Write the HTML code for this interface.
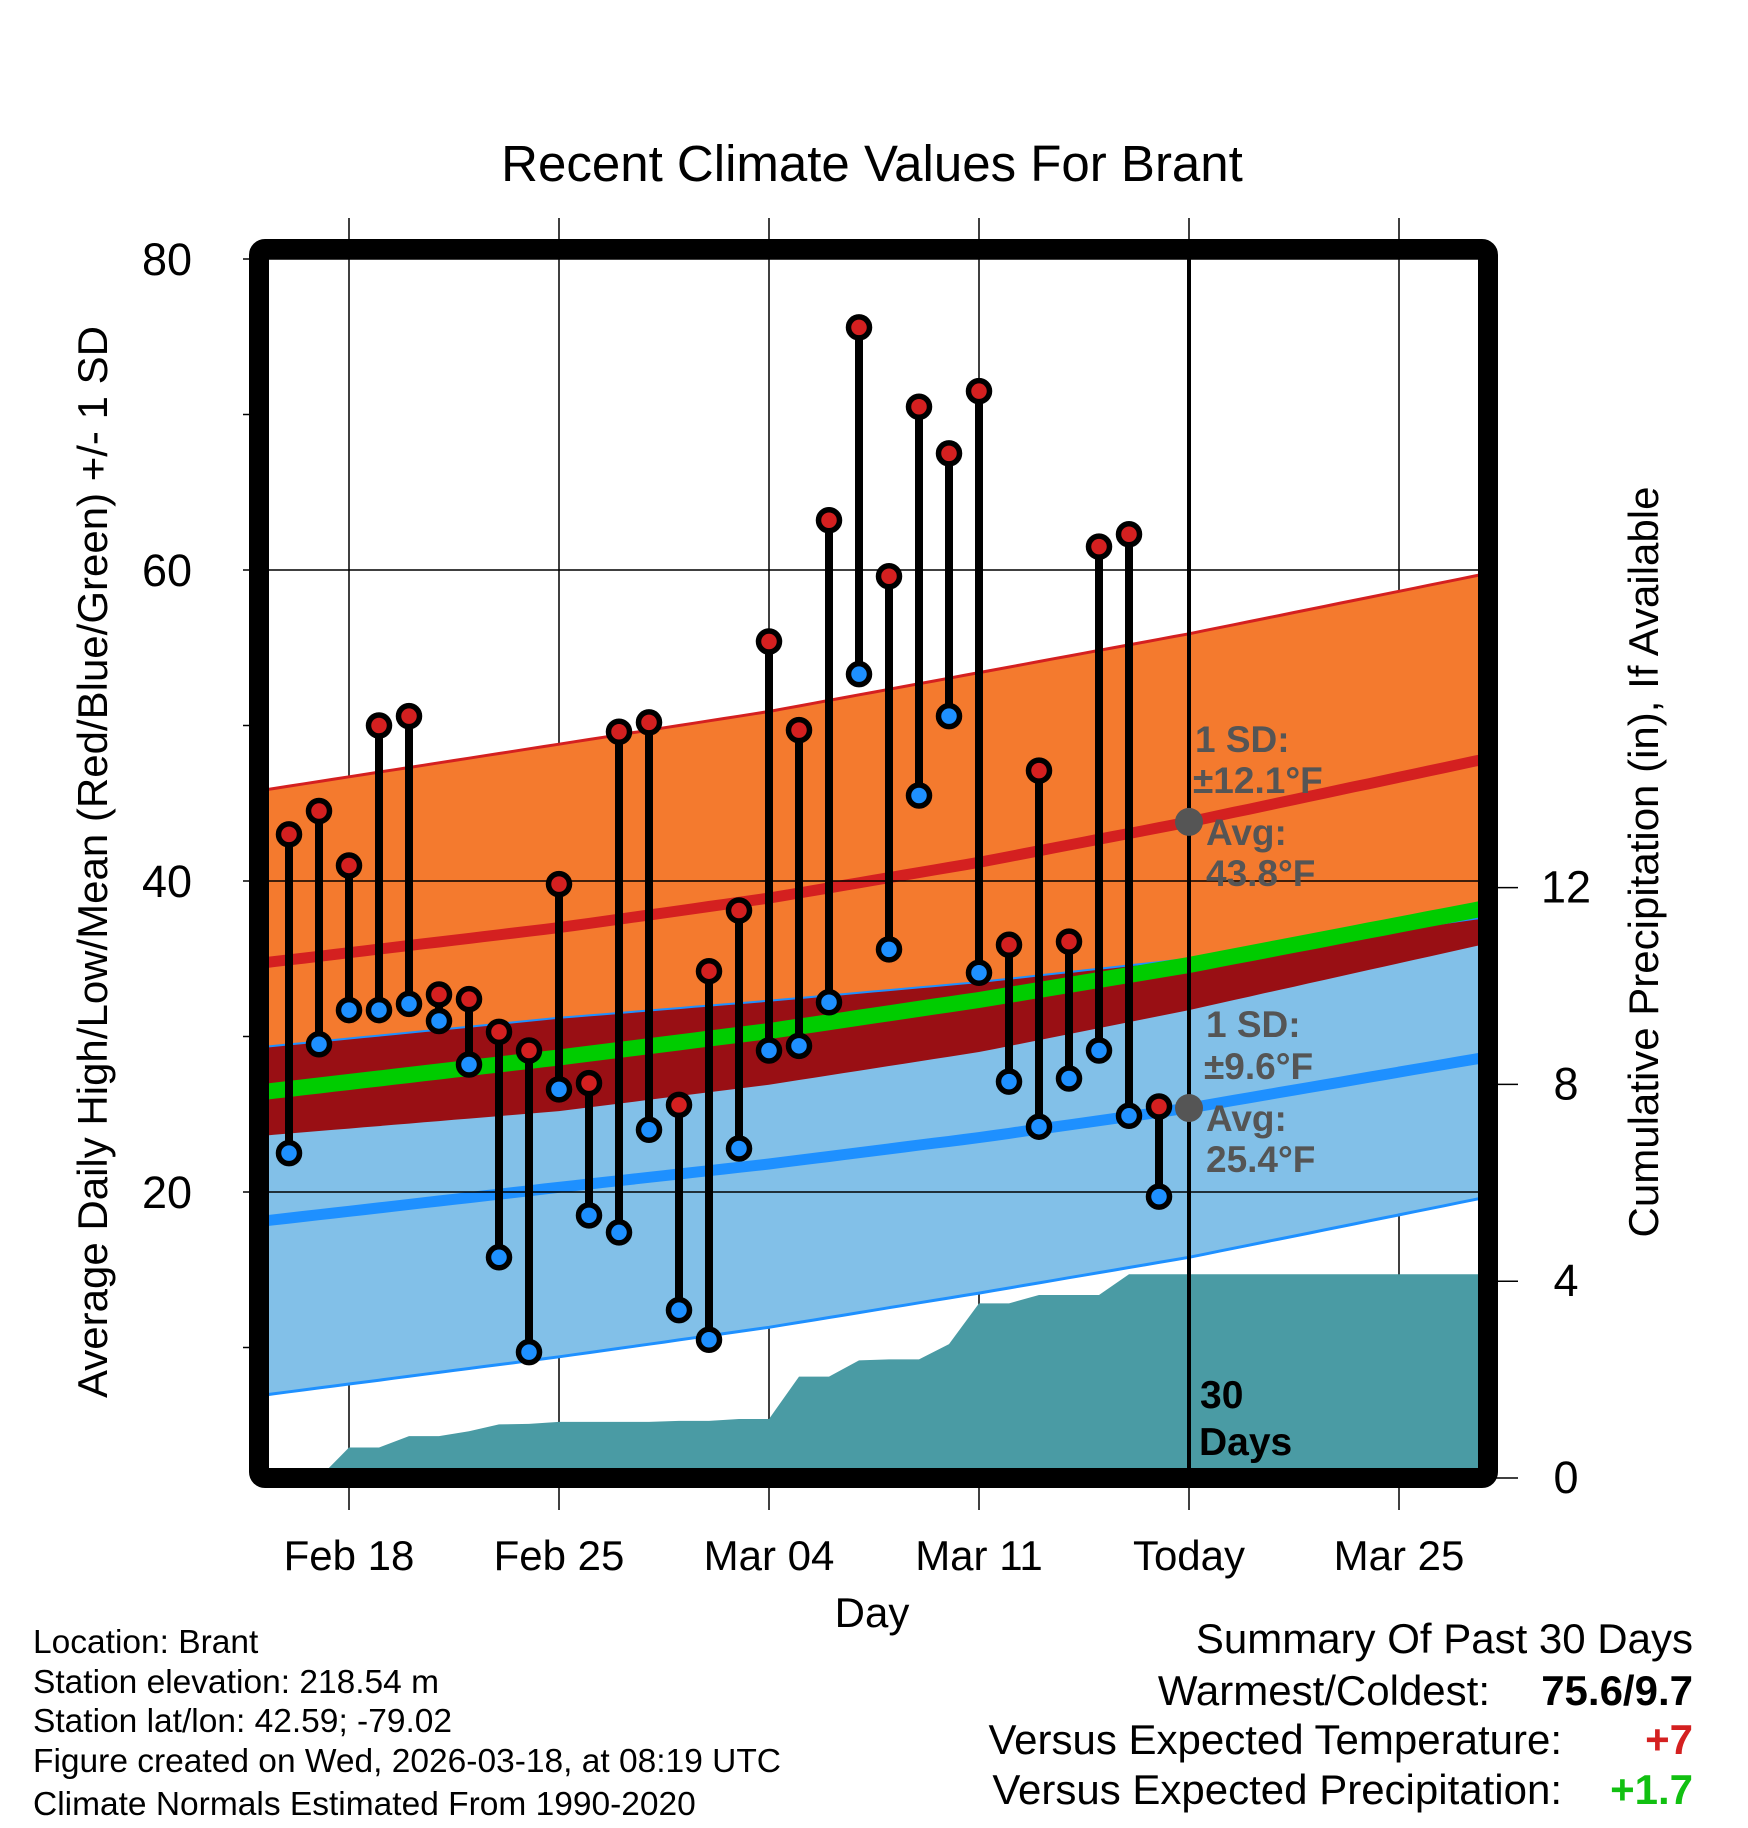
<!DOCTYPE html>
<html><head><meta charset="utf-8"><style>
html,body{margin:0;padding:0;background:#fff}
svg{display:block;font-family:"Liberation Sans",sans-serif}
</style></head><body>
<svg id="chart" width="1748" height="1828" viewBox="0 0 1748 1828" xmlns="http://www.w3.org/2000/svg">
<defs><clipPath id="plotclip"><rect x="269" y="259" width="1209" height="1209"/></clipPath></defs>
<text x="872" y="181" font-size="51" text-anchor="middle">Recent Climate Values For Brant</text>
<g id="grid"></g>
<g id="plot" clip-path="url(#plotclip)"></g>
<g id="overlay"></g>
<rect x="259" y="249" width="1229" height="1229" fill="none" stroke="#000" stroke-width="20" rx="6"/>
<g id="axes"></g>
<text transform="translate(107,862) rotate(-90)" font-size="42" text-anchor="middle">Average Daily High/Low/Mean (Red/Blue/Green) +/- 1 SD</text>
<text transform="translate(1658,862) rotate(-90)" font-size="42" text-anchor="middle">Cumulative Precipitation (in), If Available</text>
<text x="872" y="1627" font-size="42" text-anchor="middle">Day</text>
<g font-size="33.5">
<text x="33" y="1653">Location: Brant</text>
<text x="33" y="1693">Station elevation: 218.54 m</text>
<text x="33" y="1732">Station lat/lon: 42.59; -79.02</text>
<text x="33" y="1772">Figure created on Wed, 2026-03-18, at 08:19 UTC</text>
<text x="33" y="1815">Climate Normals Estimated From 1990-2020</text>
</g>
<g font-size="42">
<text x="1693" y="1653" text-anchor="end">Summary Of Past 30 Days</text>
<text x="1490" y="1705" text-anchor="end">Warmest/Coldest:</text>
<text x="1693" y="1705" text-anchor="end" font-weight="bold">75.6/9.7</text>
<text x="1562" y="1754" text-anchor="end">Versus Expected Temperature:</text>
<text x="1693" y="1754" text-anchor="end" font-weight="bold" fill="#d42020">+7</text>
<text x="1562" y="1804" text-anchor="end">Versus Expected Precipitation:</text>
<text x="1693" y="1804" text-anchor="end" font-weight="bold" fill="#11c011">+1.7</text>
</g>
</svg>
<script>
// data (day offsets relative to Feb 18)
const obsDays = [-2,-1,0,1,2,3,4,5,6,7,8,9,10,11,12,13,14,15,16,17,18,19,20,21,22,23,24,25,26,27];
const highs = [43.0,44.5,41.0,50.0,50.6,32.7,32.4,30.3,29.1,39.8,27.0,49.6,50.2,25.6,34.2,38.1,55.4,49.7,63.2,75.6,59.6,70.5,67.5,71.5,35.9,47.1,36.1,61.5,62.3,25.5];
const lows = [22.5,29.5,31.7,31.7,32.1,31.0,28.2,15.8,9.7,26.6,18.5,17.4,24.0,12.4,10.5,22.8,29.1,29.4,32.2,53.3,35.6,45.5,50.6,34.1,27.1,24.2,27.3,29.1,24.9,19.7];
const precip = [0,0,0.62,0.62,0.85,0.85,0.95,1.09,1.1,1.14,1.14,1.14,1.14,1.16,1.16,1.2,1.2,2.06,2.06,2.39,2.41,2.41,2.72,3.55,3.55,3.72,3.72,3.72,4.14,4.14];
const normDays = [-3,7,14,21,28,38];
const highMean = [34.7,37.0,38.9,41.2,43.8,47.9];
const highSD = [11.1,11.8,12.0,12.2,12.1,11.9];
const lowMean = [18.1,20.3,21.8,23.5,25.4,28.7];
const lowSD = [11.2,10.9,10.5,10.0,9.6,9.0];
const xTickDays = [0,7,14,21,28,35];
const xTickLabels = ["Feb 18","Feb 25","Mar 04","Mar 11","Today","Mar 25"];
const yTicks = [20,40,60,80];
const yMinor = [10,30,50,70];
const pTicks = [0,4,8,12];
const todayDay = 28;

const NS = "http://www.w3.org/2000/svg";
const X = d => 349 + d*30;
const Y = v => 1503 - v*15.55;
const P = v => 1478 - v*49.2;
function mk(parent, tag, attrs){const e=document.createElementNS(NS,tag);for(const k in attrs)e.setAttribute(k,attrs[k]);parent.appendChild(e);return e;}
const grid=document.getElementById('grid'), plot=document.getElementById('plot'), ov=document.getElementById('overlay'), axes=document.getElementById('axes');

function interp(arr,d){for(let i=0;i<normDays.length-1;i++){if(d<=normDays[i+1]||i==normDays.length-2){const t=(d-normDays[i])/(normDays[i+1]-normDays[i]);return arr[i]+t*(arr[i+1]-arr[i]);}}}
const samp=[];for(let d=-3;d<=38;d+=0.5)samp.push(d);
const line = f => samp.map(d=>X(d).toFixed(1)+","+Y(f(d)).toFixed(1)).join(" L");
const band = (f1,f2) => "M"+line(f1)+" L"+samp.slice().reverse().map(d=>X(d).toFixed(1)+","+Y(f2(d)).toFixed(1)).join(" L")+" Z";
const hTop=d=>interp(highMean,d)+interp(highSD,d), hBot=d=>interp(highMean,d)-interp(highSD,d);
const lTop=d=>interp(lowMean,d)+interp(lowSD,d), lBot=d=>interp(lowMean,d)-interp(lowSD,d);

let e;
e=mk(plot,'path',{d:band(hTop,hBot),fill:'#f47a2e'});

e=mk(plot,'path',{d:band(lTop,lBot),fill:'#82c0e8'});

e=mk(plot,'path',{d:band(lTop,hBot),fill:'#990f14'});

e=mk(plot,'path',{d:"M"+line(hTop),fill:'none',stroke:'#d42020',"stroke-width":3});

e=mk(plot,'path',{d:"M"+line(lTop),fill:'none',stroke:'#1e90ff',"stroke-width":2});

e=mk(plot,'path',{d:"M"+line(lBot),fill:'none',stroke:'#1e90ff',"stroke-width":3});

e=mk(plot,'path',{d:"M"+line(d=>interp(highMean,d)),fill:'none',stroke:'#d42020',"stroke-width":11});

e=mk(plot,'path',{d:"M"+line(d=>interp(lowMean,d)),fill:'none',stroke:'#1e90ff',"stroke-width":11});

e=mk(plot,'path',{d:"M"+line(d=>(interp(highMean,d)+interp(lowMean,d))/2),fill:'none',stroke:'#00cc00',"stroke-width":16});


let pd="M"+X(obsDays[0])+","+P(0);
obsDays.forEach((d,i)=>{pd+=" L"+X(d)+","+P(precip[i]);});
pd+=" L"+X(38)+","+P(precip[precip.length-1])+" L"+X(38)+","+P(0)+" Z";
e=mk(plot,'path',{d:pd,fill:'#4a9ba4'});


xTickDays.forEach((d,i)=>{
  e=mk(grid,'line',{x1:X(d),x2:X(d),y1:218,y2:1510,stroke:'#000',"stroke-width":1.5});
  
  e=mk(axes,'text',{x:X(d),y:1570,"font-size":42,"text-anchor":"middle"});
  e.textContent=xTickLabels[i];
  
});
yTicks.forEach(v=>{
  e=mk(ov,'line',{x1:243,x2:1478,y1:Y(v),y2:Y(v),stroke:'#000',"stroke-width":1.5});
  
  e=mk(axes,'text',{x:167,y:Y(v)+16,"font-size":45,"text-anchor":"middle"});
  e.textContent=v;
  
});
yMinor.forEach(v=>{
  e=mk(axes,'line',{x1:243,x2:259,y1:Y(v),y2:Y(v),stroke:'#000',"stroke-width":1.5});
  
});
pTicks.forEach(v=>{
  e=mk(axes,'line',{x1:1488,x2:1518,y1:P(v),y2:P(v),stroke:'#000',"stroke-width":1.5});
  
  e=mk(axes,'text',{x:1566,y:P(v)+15,"font-size":45,"text-anchor":"middle"});
  e.textContent=v;
  
});

e=mk(ov,'line',{x1:X(todayDay),x2:X(todayDay),y1:259,y2:1468,stroke:'#000',"stroke-width":4});


obsDays.forEach((d,i)=>{
  const g=mk(ov,'g',{});
  
  const s=mk(g,'line',{x1:X(d),x2:X(d),y1:Y(highs[i]),y2:Y(lows[i]),stroke:'#000',"stroke-width":8});
  
  const h=mk(g,'circle',{cx:X(d),cy:Y(highs[i]),r:10.5,fill:'#d42020',stroke:'#000',"stroke-width":5.5});
  
  const l=mk(g,'circle',{cx:X(d),cy:Y(lows[i]),r:10.5,fill:'#1e90ff',stroke:'#000',"stroke-width":5.5});
  
});

const hmT=interp(highMean,todayDay), lmT=interp(lowMean,todayDay);
e=mk(ov,'circle',{cx:X(todayDay),cy:Y(hmT),r:14,fill:'#555'});

e=mk(ov,'circle',{cx:X(todayDay),cy:Y(lmT),r:14,fill:'#555'});


const ann=[["1 SD:",1195,752],["\u00b112.1\u00b0F",1193,793],["Avg:",1206,845],["43.8\u00b0F",1206,886],
["1 SD:",1206,1037],["\u00b19.6\u00b0F",1204,1079],["Avg:",1206,1131],["25.4\u00b0F",1206,1172]];
ann.forEach(a=>{
  e=mk(ov,'text',{x:a[1],y:a[2],"font-size":37,"font-weight":"bold",fill:'#555'});
  e.textContent=a[0];
  
});
[["30",1200,1408],["Days",1199,1455]].forEach(a=>{
  e=mk(ov,'text',{x:a[1],y:a[2],"font-size":39,"font-weight":"bold",fill:'#000'});
  e.textContent=a[0];
  
});
</script>
</body></html>
